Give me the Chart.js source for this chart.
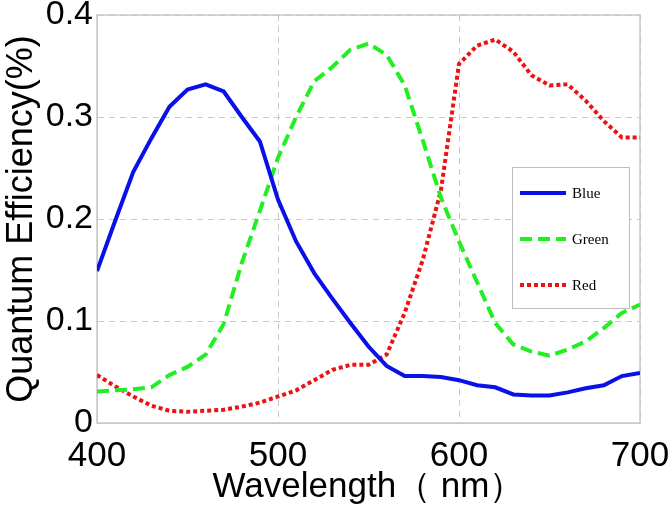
<!DOCTYPE html>
<html>
<head>
<meta charset="utf-8">
<script src="https://cdn.jsdelivr.net/npm/chart.js@4.4.1/dist/chart.umd.min.js"></script>
<style>
html,body{margin:0;padding:0;background:#fff;}
#wrap{width:669px;height:508px;position:relative;}
</style>
</head>
<body>
<div id="wrap"><canvas id="c" width="669" height="508"></canvas></div>
<script>
const wavelengths = [400,410,420,430,440,450,460,470,480,490,500,510,520,530,540,550,560,570,580,590,600,610,620,630,640,650,660,670,680,690,700];
const blueQE  = [0.149,0.198,0.246,0.279,0.310,0.327,0.332,0.325,0.300,0.276,0.219,0.178,0.147,0.122,0.098,0.075,0.056,0.046,0.046,0.045,0.042,0.037,0.035,0.028,0.027,0.027,0.030,0.034,0.037,0.046,0.049];
const greenQE = [0.031,0.032,0.033,0.035,0.047,0.055,0.067,0.097,0.157,0.208,0.260,0.300,0.335,0.349,0.366,0.372,0.361,0.331,0.277,0.221,0.178,0.138,0.098,0.077,0.070,0.066,0.072,0.080,0.093,0.108,0.116];
const redQE   = [0.047,0.036,0.026,0.017,0.012,0.011,0.012,0.013,0.016,0.020,0.026,0.032,0.042,0.052,0.057,0.057,0.067,0.108,0.160,0.228,0.352,0.370,0.376,0.364,0.341,0.331,0.332,0.316,0.296,0.280,0.280];
const seriesNames = ['Blue','Green','Red'];
const xTicks = [400,500,600,700];
const yTicks = [0,0.1,0.2,0.3,0.4];

const toPts = arr => wavelengths.map((w,i)=>({x:w,y:arr[i]}));

const frameAndLegend = {
  id:'frameAndLegend',
  beforeDatasetsDraw(chart){
    const {ctx, chartArea:a} = chart;
    ctx.save();
    ctx.strokeStyle='#c8c8c8';
    ctx.lineWidth=1.5;
    ctx.setLineDash([]);
    ctx.strokeRect(a.left, a.top, a.right-a.left, a.bottom-a.top);
    ctx.restore();
  },
  afterDatasetsDraw(chart){
    const {ctx} = chart;
    const bx=512, by=167, bw=117, bh=141;
    ctx.save();
    ctx.fillStyle='#fff';
    ctx.fillRect(bx,by,bw,bh);
    ctx.strokeStyle='#bdbdbd';
    ctx.lineWidth=1;
    ctx.strokeRect(bx+0.5,by+0.5,bw,bh);
    chart.data.datasets.forEach((ds,i)=>{
      const y = 193 + i*46;
      ctx.strokeStyle = ds.borderColor;
      ctx.lineWidth = ds.borderWidth;
      ctx.setLineDash(ds.borderDash||[]);
      ctx.lineCap='butt';
      ctx.beginPath(); ctx.moveTo(520,y); ctx.lineTo(566,y); ctx.stroke();
      ctx.setLineDash([]);
      ctx.fillStyle='#000';
      ctx.font='15px "Liberation Serif", "Times New Roman", serif';
      ctx.textBaseline='middle';
      ctx.textAlign='left';
      ctx.fillText(ds.label, 572, y+1);
    });
    ctx.restore();
  }
};

new Chart(document.getElementById('c'), {
  type:'line',
  data:{
    datasets:[
      {label:seriesNames[0], data:toPts(blueQE), borderColor:'#0a10e8', borderWidth:4, borderDash:[], pointRadius:0, tension:0, fill:false},
      {label:seriesNames[1], data:toPts(greenQE), borderColor:'#22ee22', borderWidth:4, borderDash:[12,6], pointRadius:0, tension:0, fill:false},
      {label:seriesNames[2], data:toPts(redQE), borderColor:'#ee1111', borderWidth:4, borderDash:[4,3], pointRadius:0, tension:0, fill:false}
    ]
  },
  options:{
    responsive:false,
    animation:false,
    layout:{padding:{left:0,right:29,top:15,bottom:0}},
    plugins:{legend:{display:false}, tooltip:{enabled:false}},
    scales:{
      x:{
        type:'linear', min:400, max:700,
        afterBuildTicks(s){ s.ticks = xTicks.map(v=>({value:v})); },
        afterFit(s){ s.height = 85; s.paddingLeft = 0; s.paddingRight = 0; },
        grid:{color:'#c8c8c8', lineWidth:1, tickLength:0, drawTicks:false},
        border:{display:true, color:'#c8c8c8', dash:[6,5]},
        ticks:{color:'#000', font:{family:'"Liberation Sans", Arial, sans-serif', size:35}, padding:12, maxRotation:0, autoSkip:false},
        title:{display:true, text:'Wavelength（ nm）', color:'#000', font:{family:'"Liberation Sans", Arial, sans-serif', size:35}, padding:{top:-4,bottom:0}}
      },
      y:{
        min:0, max:0.4,
        afterBuildTicks(s){ s.ticks = yTicks.map(v=>({value:v})); },
        afterFit(s){ s.width = 97; s.paddingTop = 0; s.paddingBottom = 0; },
        grid:{color:'#c8c8c8', lineWidth:1, drawTicks:false},
        border:{display:true, color:'#c8c8c8', dash:[6,5]},
        ticks:{color:'#000', font:{family:'"Liberation Sans", Arial, sans-serif', size:34}, padding:4,
          callback:v=> v===0 ? '0' : v.toFixed(1)},
        title:{display:true, text:'Quantum Efficiency(%)', color:'#000', font:{family:'"Liberation Sans", Arial, sans-serif', size:36}, padding:{top:0,bottom:0}}
      }
    }
  },
  plugins:[frameAndLegend]
});
</script>
</body>
</html>
